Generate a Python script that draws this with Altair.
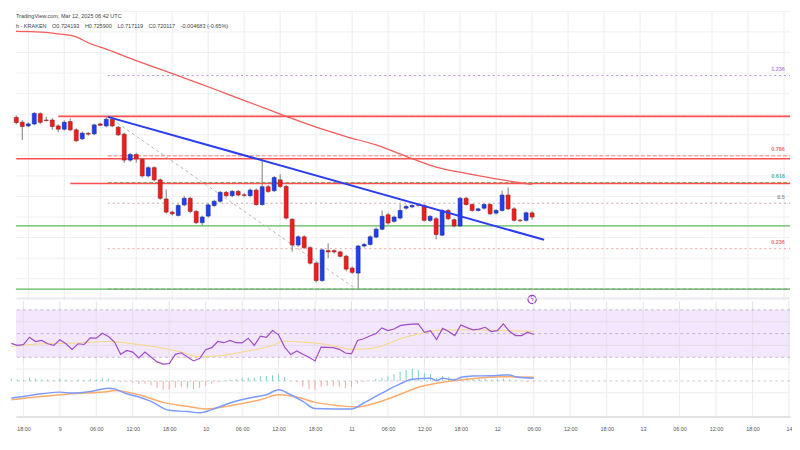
import altair as alt
import pandas as pd

# ---------------- data (hourly candles, KRAKEN) ----------------
START = pd.Timestamp("2025-03-08 16:00", tz="UTC")

OPEN = [0.8210, 0.8160, 0.8123, 0.8143, 0.8247, 0.8183, 0.8183, 0.8123, 0.8090, 0.8167,
        0.8083, 0.7993, 0.8047, 0.8043, 0.8143, 0.8123, 0.8190, 0.8110, 0.8040, 0.7777,
        0.7833, 0.7783, 0.7617, 0.7700, 0.7577, 0.7383, 0.7250, 0.7217, 0.7323, 0.7390,
        0.7257, 0.7143, 0.7210, 0.7317, 0.7360, 0.7450, 0.7417, 0.7460, 0.7425, 0.7417,
        0.7473, 0.7327, 0.7507, 0.7467, 0.7577, 0.7510, 0.7177, 0.6917, 0.7000, 0.6890,
        0.6733, 0.6557, 0.6860, 0.6860, 0.6847, 0.6803, 0.6683, 0.6633, 0.6907, 0.6923,
        0.6997, 0.7077, 0.7223, 0.7157, 0.7190, 0.7290, 0.7303, 0.7325, 0.7317, 0.7167,
        0.7183, 0.7017, 0.7267, 0.7173, 0.7110, 0.7390, 0.7327, 0.7267, 0.7290, 0.7327,
        0.7240, 0.7267, 0.7423, 0.7283, 0.7168, 0.7167, 0.7242]
HIGH = [0.8230, 0.8180, 0.8160, 0.8263, 0.8260, 0.8217, 0.8200, 0.8140, 0.8180, 0.8200,
        0.8100, 0.8065, 0.8060, 0.8145, 0.8155, 0.8210, 0.8223, 0.8125, 0.8055, 0.7850,
        0.7850, 0.7800, 0.7715, 0.7715, 0.7590, 0.7480, 0.7265, 0.7335, 0.7415, 0.7405,
        0.7270, 0.7215, 0.7340, 0.7375, 0.7465, 0.7465, 0.7475, 0.7475, 0.7440, 0.7490,
        0.7490, 0.7790, 0.7525, 0.7615, 0.7633, 0.7525, 0.7190, 0.7015, 0.7015, 0.6905,
        0.6750, 0.6880, 0.6933, 0.6875, 0.6860, 0.6820, 0.6700, 0.6920, 0.6940, 0.7015,
        0.7095, 0.7267, 0.7240, 0.7215, 0.7330, 0.7325, 0.7330, 0.7340, 0.7330, 0.7220,
        0.7200, 0.7280, 0.7280, 0.7185, 0.7405, 0.7405, 0.7340, 0.7295, 0.7340, 0.7340,
        0.7280, 0.7467, 0.7500, 0.7300, 0.7180, 0.7255, 0.7259]
LOW = [0.8140, 0.7980, 0.8110, 0.8130, 0.8140, 0.8167, 0.8083, 0.8060, 0.8075, 0.8070,
       0.7960, 0.7980, 0.8025, 0.8030, 0.8120, 0.8110, 0.8110, 0.8020, 0.7750, 0.7760,
       0.7750, 0.7600, 0.7600, 0.7560, 0.7375, 0.7235, 0.7215, 0.7205, 0.7310, 0.7240,
       0.7130, 0.7117, 0.7195, 0.7300, 0.7345, 0.7400, 0.7400, 0.7410, 0.7405, 0.7400,
       0.7315, 0.7315, 0.7445, 0.7455, 0.7495, 0.7175, 0.6850, 0.6900, 0.6875, 0.6720,
       0.6540, 0.6545, 0.6783, 0.6830, 0.6790, 0.6650, 0.6625, 0.6477, 0.6890, 0.6910,
       0.6985, 0.7065, 0.7125, 0.7145, 0.7175, 0.7275, 0.7290, 0.7305, 0.7155, 0.7150,
       0.6973, 0.7005, 0.7170, 0.7095, 0.7100, 0.7315, 0.7255, 0.7255, 0.7275, 0.7220,
       0.7225, 0.7255, 0.7270, 0.7155, 0.7150, 0.7155, 0.7171]
CLOSE = [0.8157, 0.8117, 0.8143, 0.8250, 0.8160, 0.8178, 0.8117, 0.8090, 0.8160, 0.8083,
         0.7973, 0.8050, 0.8040, 0.8133, 0.8130, 0.8190, 0.8123, 0.8033, 0.7777, 0.7833,
         0.7790, 0.7617, 0.7700, 0.7577, 0.7390, 0.7250, 0.7233, 0.7317, 0.7390, 0.7257,
         0.7143, 0.7200, 0.7323, 0.7360, 0.7450, 0.7417, 0.7460, 0.7423, 0.7420, 0.7473,
         0.7327, 0.7507, 0.7460, 0.7600, 0.7510, 0.7190, 0.6917, 0.7000, 0.6890, 0.6733,
         0.6557, 0.6867, 0.6847, 0.6847, 0.6803, 0.6673, 0.6640, 0.6907, 0.6923, 0.7000,
         0.7077, 0.7207, 0.7140, 0.7200, 0.7267, 0.7307, 0.7317, 0.7320, 0.7167, 0.7207,
         0.7023, 0.7267, 0.7183, 0.7110, 0.7390, 0.7327, 0.7267, 0.7283, 0.7327, 0.7233,
         0.7267, 0.7423, 0.7283, 0.7167, 0.7164, 0.7243, 0.7201]

# moving average (red) sampled at candle indices
MA_IDX = [-1, 0, 5, 7, 10, 12, 15, 20, 25, 30, 35, 40, 45, 50, 55, 60, 65, 70, 75, 80, 86]
MA_VAL = [0.908, 0.908, 0.907, 0.9055, 0.9025, 0.8965, 0.890, 0.8785, 0.8675, 0.8565, 0.845,
          0.8335, 0.822, 0.811, 0.8015, 0.793, 0.7815, 0.7705, 0.7642, 0.7587, 0.753]

# horizontal levels
RED_START = ["2025-03-08T23:00:00Z", "2025-03-08T16:00:00Z", "2025-03-09T01:00:00Z"]
RED_PRICE = [0.822, 0.779, 0.754]
GREEN_PRICE = [0.711, 0.647]
FIB_LEVEL = ["1.236", "1", "0.786", "0.618", "0.5", "0.236", "0"]
FIB_PRICE = [0.8633, 0.822, 0.782, 0.755, 0.734, 0.688, 0.647]
FIB_DASH = [[2, 3], [4, 2], [4, 2], [4, 2], [2, 3], [2, 3], [4, 2]]
FIB_COLOR = ["#b48ee0", "#9a9a9a", "#f08080", "#66bb6a", "#c7a0a8", "#f4a0a0", "#7a9a7a"]
FIB_LABELS = ["1.236", "0.786", "0.618", "0.5", "0.236"]
FIB_LABEL_PRICE = [0.8633, 0.782, 0.755, 0.734, 0.688]
FIB_LABEL_COLOR = ["#b48ee0", "#e57373", "#4db6ac", "#8d8d8d", "#e57373"]
FIB_START = "2025-03-09T07:15:00Z"
FIB_DIAG_T = ["2025-03-09T07:15:00Z", "2025-03-11T00:40:00Z"]
FIB_DIAG_P = [0.822, 0.647]
TREND_T = ["2025-03-09T07:15:00Z", "2025-03-12T08:00:00Z"]
TREND_P = [0.8215, 0.697]
MAIN_GRID = [0.9283, 0.9075, 0.8867, 0.8658, 0.845, 0.8242, 0.8033, 0.7825, 0.7617,
             0.7408, 0.72, 0.6992, 0.6783, 0.6575, 0.6367]

# RSI
RSI = [41.7, 40.0, 40.6, 46.9, 43.3, 44.2, 41.4, 40.0, 44.8, 41.4,
       36.7, 41.4, 40.8, 46.4, 46.1, 50.3, 47.5, 42.8, 32.5, 35.8,
       34.4, 29.4, 34.4, 30.3, 26.1, 24.2, 24.6, 32.5, 33.8, 30.3,
       26.9, 28.9, 36.4, 38.1, 43.3, 42.3, 44.2, 42.3, 42.1, 46.1,
       40.0, 47.8, 46.9, 52.5, 48.9, 38.6, 32.3, 35.3, 32.5, 30.0,
       26.9, 38.6, 38.3, 38.1, 36.7, 33.6, 32.9, 44.2, 45.6, 47.9,
       49.8, 54.8, 52.5, 53.8, 56.7, 57.5, 57.9, 58.1, 51.1, 52.5,
       45.0, 54.4, 51.7, 48.3, 57.3, 55.0, 53.1, 53.8, 55.3, 51.7,
       52.5, 58.1, 51.9, 48.3, 48.3, 51.1, 49.2]
RSI_MA_IDX = [0, 5, 10, 16, 20, 24, 28, 31, 35, 38, 43, 45, 48, 52, 56, 59, 62, 64, 68, 71, 75, 81, 86]
RSI_MA_VAL = [39.2, 41.4, 41.9, 43.3, 41.4, 38.6, 34.4, 30.3, 31.7, 34.4, 40.0, 43.6, 42.8,
              40.8, 36.7, 37.3, 41.4, 45.6, 50.6, 53.1, 53.1, 52.5, 51.9]
RSI_LEVELS = [70, 50, 30]
RSI_GRID = [80, 60, 40]

# MACD
MACD_IDX = [0, 2, 5, 8, 10, 13, 16, 17, 19, 21, 23, 26, 29, 31, 33, 36, 40, 42, 44, 46,
            48, 50, 53, 56, 58, 61, 64, 66, 69, 70, 71, 73, 74, 76, 79, 81, 82, 83, 86]
MACD_VAL = [-0.0173, -0.0157, -0.0130, -0.0113, -0.0123, -0.0107, -0.0073, -0.0080, -0.0130, -0.0163,
            -0.0207, -0.0297, -0.0310, -0.0323, -0.0290, -0.0223, -0.0163, -0.0140, -0.0090, -0.0140,
            -0.0207, -0.0280, -0.0283, -0.0283, -0.0223, -0.0123, -0.0030, 0.0017, 0.0027, 0.0003,
            0.0027, 0.0010, 0.0037, 0.0050, 0.0053, 0.0060, 0.0060, 0.0043, 0.0027]
SIG_IDX = [0, 5, 10, 16, 17, 21, 25, 29, 32, 36, 41, 44, 47, 50, 54, 57, 60, 64, 67, 70, 75, 81, 86]
SIG_VAL = [-0.0190, -0.0157, -0.0130, -0.0107, -0.0097, -0.0140, -0.0217, -0.0257, -0.0283, -0.0250,
           -0.0190, -0.0140, -0.0163, -0.0217, -0.0250, -0.0263, -0.0223, -0.0135, -0.0063, -0.0023,
           0.0017, 0.0043, 0.0037]
HIST = [0.0025, 0.0015, 0.0010, 0.0033, 0.0025, 0.0017, 0.0015, 0.0010, 0.0025, 0.0012,
        0.0005, 0.0012, 0.0010, 0.0020, 0.0017, 0.0033, 0.0027, 0.0008, -0.0013, -0.0010,
        -0.0017, -0.0033, -0.0027, -0.0043, -0.0070, -0.0090, -0.0090, -0.0067, -0.0060, -0.0070,
        -0.0083, -0.0070, -0.0047, -0.0027, -0.0010, 0.0007, 0.0013, 0.0020, 0.0027, 0.0033,
        0.0033, 0.0050, 0.0050, 0.0057, 0.0067, 0.0040, -0.0003, -0.0013, -0.0060, -0.0083,
        -0.0090, -0.0060, -0.0050, -0.0053, -0.0060, -0.0070, -0.0063, -0.0023, -0.0010, 0.0003,
        0.0020, 0.0033, 0.0045, 0.0070, 0.0095, 0.0110, 0.0120, 0.0110, 0.0080, 0.0070,
        0.0030, 0.0050, 0.0040, 0.0030, 0.0040, 0.0035, 0.0030, 0.0025, 0.0025, 0.0015,
        0.0020, 0.0025, 0.0015, 0.0005, -0.0005, -0.0007, -0.0010]
MACD_GRID = [0.012, -0.012]

HEADER_1 = "TradingView.com, Mar 12, 2025 06:42 UTC"
HEADER_2 = "h - KRAKEN\u2003O0.724193\u2003H0.725900\u2003L0.717119\u2003C0.720117\u2003-0.004683 (-0.65%)"

# ---------------- helpers ----------------
def times(idx):
    return [(START + pd.Timedelta(hours=float(k))).strftime("%Y-%m-%dT%H:%M:%SZ") for k in idx]

TICKS = pd.date_range("2025-03-08 18:00", "2025-03-14 00:00", freq="6h", tz="UTC")
TICK_DT = [alt.DateTime(year=int(t.year), month=int(t.month), date=int(t.day), hours=int(t.hour), utc=True)
           for t in TICKS]
LEFT_EDGE = "2025-03-08T08:00:00Z"
RIGHT_EDGE = "2025-03-14T08:00:00Z"
LABEL_T = "2025-03-14T00:08:00Z"

W = 784
H_MAIN, H_RSI, H_MACD = 292, 64, 53

XS = alt.Scale(type="utc", domain=[
    alt.DateTime(year=2025, month=3, date=8, hours=16, minutes=45, seconds=48, utc=True),
    alt.DateTime(year=2025, month=3, date=14, hours=0, minutes=10, seconds=50, utc=True)])
YM = alt.Scale(domain=[0.635, 0.927], nice=False, zero=False)
YR = alt.Scale(domain=[24.17, 77.5], nice=False, zero=False)
YD = alt.Scale(domain=[-0.036, 0.017], nice=False, zero=False)

XAXIS = alt.Axis(values=TICK_DT, grid=False, ticks=False, domain=True, domainColor="#c4c4c4",
                 labelExpr="utchours(datum.value) == 0 ? utcFormat(datum.value, '%-d') : utcFormat(datum.value, '%H:%M')",
                 labelFontSize=5.5, labelColor="#555555", labelFont="Liberation Sans", labelPadding=10,
                 labelOverlap=False, labelFlush=False, labelBound=False, title=None)


def X(field="t", axis=None):
    return alt.X(f"{field}:T", scale=XS, axis=axis, title=None)


def Y(field, scale):
    return alt.Y(f"{field}:Q", scale=scale, axis=None, title=None)


# ---------------- frames ----------------
candles = pd.DataFrame({"t": times(range(len(OPEN))), "open": OPEN, "high": HIGH, "low": LOW, "close": CLOSE})
up_c = candles[candles["close"] >= candles["open"]]
dn_c = candles[candles["close"] < candles["open"]]
grid_df = pd.DataFrame({"t": [t.strftime("%Y-%m-%dT%H:%M:%SZ") for t in TICKS]})
ma_df = pd.DataFrame({"t": times(MA_IDX), "v": MA_VAL})
red_df = pd.DataFrame({"t0": RED_START, "t1": [RIGHT_EDGE] * 3, "p": RED_PRICE})
green_df = pd.DataFrame({"t0": [LEFT_EDGE] * 2, "t1": [RIGHT_EDGE] * 2, "p": GREEN_PRICE})
diag_df = pd.DataFrame({"t": FIB_DIAG_T, "p": FIB_DIAG_P})
trend_df = pd.DataFrame({"t": TREND_T, "p": TREND_P})
hgrid_df = pd.DataFrame({"p": MAIN_GRID})
event_df = pd.DataFrame({"t": times([86]), "p": [0.6365], "s": ["ϟ"]})

rsi_df = pd.DataFrame({"t": times(range(len(RSI))), "v": RSI})
rsima_df = pd.DataFrame({"t": times(RSI_MA_IDX), "v": RSI_MA_VAL})
band_df = pd.DataFrame({"t0": [LEFT_EDGE], "t1": [RIGHT_EDGE], "hi": [RSI_LEVELS[0]], "lo": [RSI_LEVELS[-1]]})
rsilev_df = pd.DataFrame({"v": RSI_LEVELS})
rsigrid_df = pd.DataFrame({"v": RSI_GRID})

macd_df = pd.DataFrame({"t": times(MACD_IDX), "v": MACD_VAL})
sig_df = pd.DataFrame({"t": times(SIG_IDX), "v": SIG_VAL})
hist_df = pd.DataFrame({"t": times(range(len(HIST))), "h": HIST, "base": [0.0] * len(HIST)})
hist_pos = hist_df[hist_df["h"] >= 0]
hist_neg = hist_df[hist_df["h"] < 0]
macdgrid_df = pd.DataFrame({"v": MACD_GRID})
zero_df = pd.DataFrame({"v": [0.0]})

# ---------------- main pane ----------------
vgrid_m = alt.Chart(grid_df).mark_rule(color="#ececec", strokeWidth=1).encode(x=X())
hgrid_m = alt.Chart(hgrid_df).mark_rule(color="#f0f0f0", strokeWidth=1).encode(y=Y("p", YM))
green = alt.Chart(green_df).mark_rule(color="#5cb85c", strokeWidth=1.2, clip=True).encode(
    x=X("t0"), x2="t1:T", y=Y("p", YM))
fib_layers = []
for lvl, price, col, dash in zip(FIB_LEVEL, FIB_PRICE, FIB_COLOR, FIB_DASH):
    d = pd.DataFrame({"t0": [FIB_START], "t1": [RIGHT_EDGE], "p": [price], "lvl": [lvl]})
    fib_layers.append(alt.Chart(d).mark_rule(color=col, strokeWidth=1, strokeDash=dash, clip=True).encode(
        x=X("t0"), x2="t1:T", y=Y("p", YM)))
red = alt.Chart(red_df).mark_rule(color="#ff4f4f", strokeWidth=1.6, clip=True).encode(
    x=X("t0"), x2="t1:T", y=Y("p", YM))
ma = alt.Chart(ma_df).mark_line(color="#f45b5b", strokeWidth=1.3, clip=True, interpolate="monotone").encode(
    x=X(), y=Y("v", YM))
diag = alt.Chart(diag_df).mark_line(color="#b5b5b5", strokeWidth=1, strokeDash=[3, 3]).encode(
    x=X(), y=Y("p", YM))
wicks = alt.Chart(candles).mark_rule(color="#7a7a7a", strokeWidth=1).encode(
    x=X(), y=Y("low", YM), y2="high:Q")
bodies_up = alt.Chart(up_c).mark_bar(size=4, strokeWidth=0.6, color="#1f3ff0", stroke="#17289a").encode(
    x=X(), y=Y("open", YM), y2="close:Q")
bodies_dn = alt.Chart(dn_c).mark_bar(size=4, strokeWidth=0.6, color="#f01d1d", stroke="#9a1717").encode(
    x=X(), y=Y("open", YM), y2="close:Q")
trend = alt.Chart(trend_df).mark_line(color="#2b3df0", strokeWidth=2).encode(x=X(), y=Y("p", YM))
lab_layers = []
for lab, price, col in zip(FIB_LABELS, FIB_LABEL_PRICE, FIB_LABEL_COLOR):
    d = pd.DataFrame({"t": [LABEL_T], "p": [price], "lvl": [lab]})
    lab_layers.append(alt.Chart(d).mark_text(align="right", baseline="middle", dy=-6.5, fontSize=5.5,
                                             fontWeight="bold", font="Liberation Sans", color=col).encode(
        x=X(), y=Y("p", YM), text="lvl:N"))
event_c = alt.Chart(event_df).mark_point(shape="circle", size=70, filled=True, fill="white",
                                         stroke="#9c3fc0", strokeWidth=1.2, opacity=1).encode(
    x=X(), y=Y("p", YM))
event_t = alt.Chart(event_df).mark_text(color="#9c3fc0", fontSize=7, fontWeight="bold").encode(
    x=X(), y=Y("p", YM), text="s:N")
head1 = alt.Chart(pd.DataFrame({"s": [HEADER_1]})).mark_text(
    align="left", baseline="middle", fontSize=5.6, color="#444444", font="Liberation Sans").encode(
    x=alt.value(0), y=alt.value(3), text="s:N")
head2 = alt.Chart(pd.DataFrame({"s": [HEADER_2]})).mark_text(
    align="left", baseline="middle", fontSize=5.6, color="#444444", font="Liberation Sans").encode(
    x=alt.value(0), y=alt.value(14), text="s:N")

main = alt.layer(vgrid_m, hgrid_m, green, *fib_layers, red, ma, diag, wicks, bodies_up, bodies_dn, trend,
                 *lab_layers, event_c, event_t, head1, head2).properties(width=W, height=H_MAIN)

# ---------------- RSI pane ----------------
band = alt.Chart(band_df).mark_rect(color="#f2e7fc", clip=True).encode(
    x=X("t0"), x2="t1:T", y=Y("hi", YR), y2="lo:Q")
vgrid_r = alt.Chart(grid_df).mark_rule(color="#e6e0ec", strokeWidth=1).encode(x=X())
rgrid = alt.Chart(rsigrid_df).mark_rule(color="#e4dcea", strokeWidth=1).encode(y=Y("v", YR))
rlev = alt.Chart(rsilev_df).mark_rule(color="#b9a9ca", strokeWidth=0.8, strokeDash=[3, 3]).encode(y=Y("v", YR))
rsima = alt.Chart(rsima_df).mark_line(color="#f6d77c", strokeWidth=1, interpolate="monotone").encode(
    x=X(), y=Y("v", YR))
rsil = alt.Chart(rsi_df).mark_line(color="#a24cc8", strokeWidth=1.2).encode(x=X(), y=Y("v", YR))
rsi_pane = alt.layer(band, vgrid_r, rgrid, rlev, rsima, rsil).properties(width=W, height=H_RSI)

# ---------------- MACD pane ----------------
vgrid_d = alt.Chart(grid_df).mark_rule(color="#ececec", strokeWidth=1).encode(x=X(axis=XAXIS))
dgrid = alt.Chart(macdgrid_df).mark_rule(color="#ececec", strokeWidth=1).encode(y=Y("v", YD))
zero = alt.Chart(zero_df).mark_rule(color="#bdbdbd", strokeWidth=0.8, strokeDash=[3, 3]).encode(y=Y("v", YD))
hist_p = alt.Chart(hist_pos).mark_rule(strokeWidth=1, color="#7fcfc4").encode(
    x=X(axis=XAXIS), y=Y("base", YD), y2="h:Q")
hist_n = alt.Chart(hist_neg).mark_rule(strokeWidth=1, color="#f5a3a3").encode(
    x=X(axis=XAXIS), y=Y("base", YD), y2="h:Q")
macdl = alt.Chart(macd_df).mark_line(color="#7b9bff", strokeWidth=1.5, interpolate="monotone").encode(
    x=X(axis=XAXIS), y=Y("v", YD))
sigl = alt.Chart(sig_df).mark_line(color="#ffab6b", strokeWidth=1.5, interpolate="monotone").encode(
    x=X(axis=XAXIS), y=Y("v", YD))
macd_pane = alt.layer(vgrid_d, dgrid, zero, hist_p, hist_n, sigl, macdl).properties(width=W, height=H_MACD)

chart = alt.vconcat(main, rsi_pane, macd_pane, spacing=0, bounds="flush").properties(
    padding=0, background="white").configure_view(strokeWidth=0)

chart.save("out.html", embed_options={"renderer": "svg", "actions": False})
